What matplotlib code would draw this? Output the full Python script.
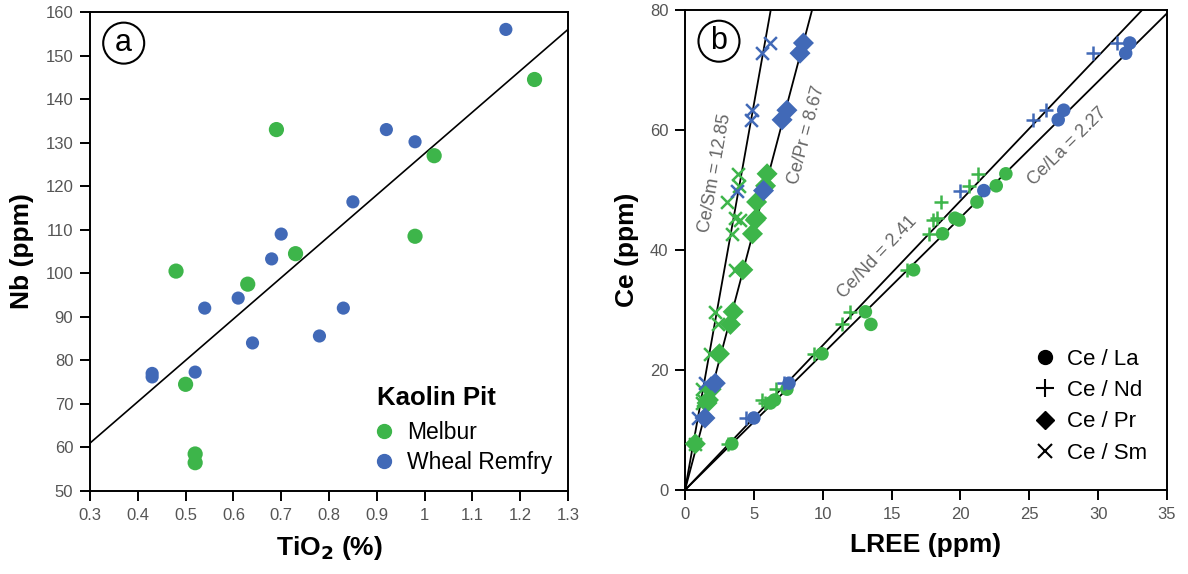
import numpy as np
import matplotlib
matplotlib.use("Agg")
import matplotlib.pyplot as plt
from matplotlib.lines import Line2D

plt.rcParams['font.family'] = ['Liberation Sans', 'DejaVu Sans']

GREEN = "#3DB54A"
BLUE = "#4169B7"
TICKCOL = "#555555"

# ---------------- Panel a data ----------------
melbur_tio2 = [0.48, 0.50, 0.52, 0.52, 0.63, 0.69, 0.73, 0.98, 1.02, 1.23]
melbur_nb = [100.5, 74.5, 58.5, 56.5, 97.5, 133.0, 104.5, 108.5, 127.0, 144.5]
wheal_tio2 = [0.43, 0.43, 0.52, 0.54, 0.61, 0.64, 0.68, 0.70, 0.78, 0.83, 0.85, 0.92, 0.98, 1.17]
wheal_nb = [77.0, 76.2, 77.3, 92.0, 94.3, 84.0, 103.3, 109.0, 85.6, 92.0, 116.4, 133.0, 130.2, 156.0]
fit_x = [0.3, 1.3]
fit_y = [61.0, 156.0]
xticks_a = [0.3, 0.4, 0.5, 0.6, 0.7, 0.8, 0.9, 1.0, 1.1, 1.2, 1.3]
xticklabels_a = ['0.3', '0.4', '0.5', '0.6', '0.7', '0.8', '0.9', '1', '1.1', '1.2', '1.3']
yticks_a = [50, 60, 70, 80, 90, 100, 110, 120, 130, 140, 150, 160]
legend_title_a = 'Kaolin Pit'
legend_a = ['Melbur', 'Wheal Remfry']

# ---------------- Panel b data ----------------
# Melbur (green) samples: Ce and La, Nd, Pr, Sm
g_ce = [52.7, 50.7, 48.0, 45.3, 45.0, 42.7, 36.7, 29.7, 27.6, 22.7, 16.8, 15.0, 14.5, 7.7]
g_la = [23.3, 22.6, 21.2, 19.6, 19.9, 18.7, 16.6, 13.1, 13.5, 9.95, 7.4, 6.5, 6.2, 3.4]
g_nd = [21.3, 20.6, 18.6, 18.3, 18.0, 17.7, 16.1, 12.0, 11.4, 9.4, 6.6, 5.6, 5.8, 3.1]
g_pr = [5.96, 5.85, 5.2, 5.2, 5.1, 4.9, 4.2, 3.5, 3.3, 2.5, 1.9, 1.7, 1.6, 0.75]
g_sm = [3.85, 3.9, 3.05, 3.6, 4.0, 3.4, 3.6, 2.2, 2.4, 1.8, 1.2, 1.3, 1.2, 0.7]
# Wheal Remfry (blue) samples
b_ce = [74.5, 72.8, 63.3, 61.7, 49.9, 17.8, 12.0]
b_la = [32.3, 32.0, 27.5, 27.1, 21.7, 7.55, 5.0]
b_nd = [31.4, 29.6, 26.2, 25.3, 20.0, 7.2, 4.4]
b_pr = [8.6, 8.35, 7.4, 7.05, 5.7, 2.2, 1.45]
b_sm = [6.2, 5.6, 4.9, 4.8, 3.8, 1.45, 0.95]

ratio_names = ['Ce/La', 'Ce/Nd', 'Ce/Pr', 'Ce/Sm']
ratio_values = [2.27, 2.41, 8.67, 12.85]
legend_b = ['Ce / La', 'Ce / Nd', 'Ce / Pr', 'Ce / Sm']
xticks_b = [0, 5, 10, 15, 20, 25, 30, 35]
yticks_b = [0, 20, 40, 60, 80]

fig = plt.figure(figsize=(11.88, 5.74), dpi=100)

def style_axes(ax):
    for s in ax.spines.values():
        s.set_linewidth(1.4)
        s.set_color('black')
    ax.tick_params(direction='out', length=7, width=1.4, colors='black',
                   labelcolor=TICKCOL, labelsize=12, pad=5)

# ---------- Panel a ----------
axa = fig.add_axes([90/1188, 83/574, 478/1188, 479/574])
style_axes(axa)
axa.plot(fit_x, fit_y, color='black', lw=1.2, zorder=1)
axa.scatter(melbur_tio2, melbur_nb, s=120, color=GREEN, edgecolors='none', zorder=3)
axa.scatter(wheal_tio2, wheal_nb, s=90, color=BLUE, edgecolors='none', zorder=3)
axa.set_xlim(0.3, 1.3)
axa.set_ylim(50, 160)
axa.set_xticks(xticks_a)
axa.set_xticklabels(xticklabels_a)
axa.set_yticks(yticks_a)
axa.set_xlabel('TiO$_\\mathbf{2}$ (%)', fontsize=19, fontweight='bold', labelpad=8)
axa.set_ylabel('Nb (ppm)', fontsize=19, fontweight='bold', labelpad=8)
axa.text(0.0705, 0.935, 'a', transform=axa.transAxes, fontsize=22, ha='center', va='center',
         bbox=dict(boxstyle='circle,pad=0.18', fc='white', ec='black', lw=1.5))
axa.text((377 - 90) / 478, 1 - (398 - 12) / 479, legend_title_a, transform=axa.transAxes,
         fontsize=18.5, fontweight='bold', ha='left', va='center')
ha = [Line2D([], [], marker='o', ls='none', color=GREEN, markersize=10),
      Line2D([], [], marker='o', ls='none', color=BLUE, markersize=10)]
axa.legend(ha, legend_a, loc='upper left', frameon=False, fontsize=16.5,
           handlelength=0.6, handletextpad=0.7, labelspacing=0.32,
           bbox_to_anchor=(0.6004, 1 - (421 - 12) / 479), borderaxespad=0, borderpad=0)

# ---------- Panel b ----------
axb = fig.add_axes([685/1188, 84/574, 482/1188, 480/574])
style_axes(axb)
axb.set_xlim(0, 35)
axb.set_ylim(0, 80)
xx = np.array([0, 35])
for r in ratio_values:
    axb.plot(xx, r * xx, color='black', lw=1.3, zorder=1)

for ce, la, nd, pr, sm, col in [(g_ce, g_la, g_nd, g_pr, g_sm, GREEN),
                                (b_ce, b_la, b_nd, b_pr, b_sm, BLUE)]:
    axb.scatter(la, ce, s=95, marker='o', color=col, edgecolors='none', zorder=3)
    axb.scatter(nd, ce, s=110, marker='+', color=col, linewidths=1.8, zorder=3)
    axb.scatter(pr, ce, s=115, marker='D', color=col, edgecolors='none', zorder=3)
    axb.scatter(sm, ce, s=85, marker='x', color=col, linewidths=1.8, zorder=3)

axb.set_xticks(xticks_b)
axb.set_yticks(yticks_b)
axb.set_xlabel('LREE (ppm)', fontsize=19, fontweight='bold', labelpad=8)
axb.set_ylabel('Ce (ppm)', fontsize=19, fontweight='bold', labelpad=8)
axb.text(0.0705, 0.935, 'b', transform=axb.transAxes, fontsize=22, ha='center', va='center',
         bbox=dict(boxstyle='circle,pad=0.18', fc='white', ec='black', lw=1.5))

# ratio labels along lines
label_pos = {'Ce/La': (27.8, 57.3), 'Ce/Nd': (13.95, 38.8), 'Ce/Pr': (8.85, 59.2), 'Ce/Sm': (2.2, 52.8)}
for name, r in zip(ratio_names, ratio_values):
    x0, y0 = label_pos[name]
    p1 = axb.transData.transform((0, 0))
    p2 = axb.transData.transform((10, 10 * r))
    ang = np.degrees(np.arctan2(p2[1] - p1[1], p2[0] - p1[0]))
    axb.text(x0, y0, f'{name} = {r:.2f}', rotation=ang, rotation_mode='anchor',
             ha='center', va='center', fontsize=13, color='#666666')

hb = [Line2D([], [], marker='o', ls='none', color='black', markersize=10),
      Line2D([], [], marker='+', ls='none', color='black', markersize=13, markeredgewidth=1.5),
      Line2D([], [], marker='D', ls='none', color='black', markersize=9),
      Line2D([], [], marker='x', ls='none', color='black', markersize=10, markeredgewidth=1.5)]
axb.legend(hb, legend_b, loc='upper left', frameon=False, fontsize=16,
           handlelength=1.0, handletextpad=0.5, labelspacing=0.46,
           bbox_to_anchor=(0.724, 1 - (349 - 10) / 480), borderaxespad=0, borderpad=0)

fig.savefig('out.png', dpi=100)
